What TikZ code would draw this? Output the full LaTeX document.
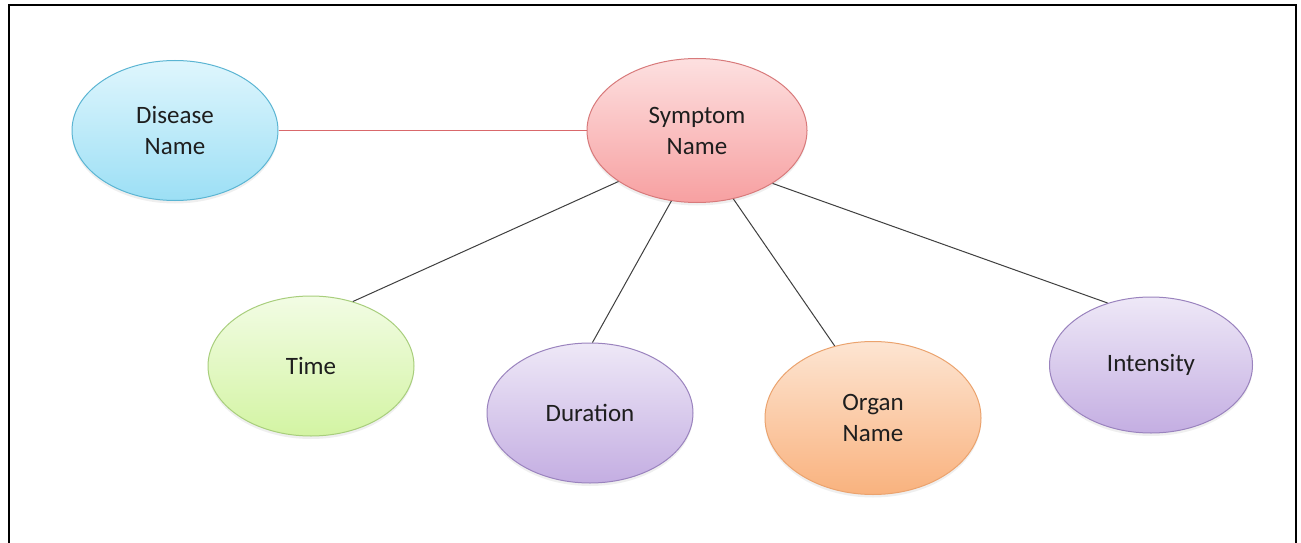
\documentclass[tikz,border=0pt]{standalone}
\usepackage{fontspec}
\setmainfont{Carlito}
\usetikzlibrary{shapes.geometric,shadows}

\definecolor{txt}{HTML}{1E1E1E}
\definecolor{link}{HTML}{3F3F3F}
\definecolor{redlink}{HTML}{D9686B}
\definecolor{blueedge}{HTML}{5BB5D3}
\definecolor{bluetop}{HTML}{DFF6FD}
\definecolor{bluebot}{HTML}{9CDFF5}
\definecolor{rededge}{HTML}{D87A7B}
\definecolor{redtop}{HTML}{FDE0E0}
\definecolor{redbot}{HTML}{F7A0A1}
\definecolor{greenedge}{HTML}{A8CE7C}
\definecolor{greentop}{HTML}{F2FCE4}
\definecolor{greenbot}{HTML}{D3F4A3}
\definecolor{purpleedge}{HTML}{9A83BE}
\definecolor{purpletop}{HTML}{EEE8F7}
\definecolor{purplebot}{HTML}{C4AEE2}
\definecolor{orangeedge}{HTML}{EBA36E}
\definecolor{orangetop}{HTML}{FDE5D2}
\definecolor{orangebot}{HTML}{F9B27E}

\tikzset{
  bubble/.style={ellipse, draw, line width=1pt, inner sep=0pt,
    minimum width=206pt, minimum height=140pt, align=center,
    text=txt, font=\fontsize{25}{31}\selectfont,
    drop shadow={opacity=0.12, shadow xshift=0pt, shadow yshift=-3pt}},
  bluebub/.style={bubble, draw=blueedge, top color=bluetop, bottom color=bluebot},
  redbub/.style={bubble, draw=rededge, top color=redtop, bottom color=redbot},
  greenbub/.style={bubble, draw=greenedge, top color=greentop, bottom color=greenbot},
  purplebub/.style={bubble, draw=purpleedge, top color=purpletop, bottom color=purplebot},
  orangebub/.style={bubble, draw=orangeedge, top color=orangetop, bottom color=orangebot},
  connector/.style={draw=link, line width=1pt},
}

\begin{document}
\begin{tikzpicture}[x=1pt,y=-1pt]
  \useasboundingbox (0,0) rectangle (1301,543);
  \fill[white] (0,0) rectangle (1301,543);
  % outer frame, open at the bottom edge
  \draw[line width=2pt, black] (9,543) -- (9,5) -- (1296,5) -- (1296,543);

  \node[bluebub]   (dis) at (175,130.5) {Disease\\Name};
  \node[redbub, minimum width=220pt, minimum height=144pt]
                   (sym) at (697,130.5) {Symptom\\Name};
  \node[greenbub]  (tim) at (311,366) {Time};
  \node[purplebub] (dur) at (590,413) {Duration};
  \node[orangebub, minimum width=216pt, minimum height=153pt]
                   (org) at (873,418) {Organ\\Name};
  \node[purplebub, minimum width=203pt, minimum height=136pt]
                   (int) at (1151,365) {Intensity};

  \draw[draw=redlink, line width=1.2pt] (dis.east) -- (sym.west);
  \draw[connector] (sym.213) -- (tim.57);
  \draw[connector] (sym.250) -- (dur.88);
  \draw[connector] (sym.298) -- (org.118);
  \draw[connector] (sym.325) -- (int.125);
\end{tikzpicture}
\end{document}
